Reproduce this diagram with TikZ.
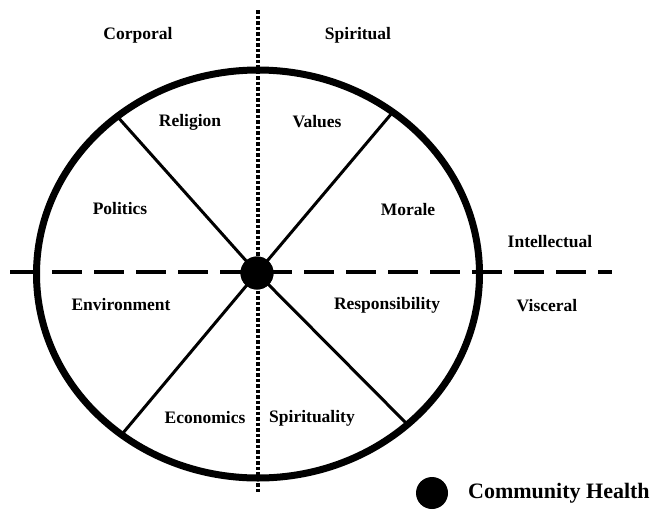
\documentclass[tikz,border=0pt]{standalone}
\usepackage{fontspec}
\setmainfont{Liberation Serif}
\begin{document}
\begin{tikzpicture}[x=1pt,y=-1pt,
  lbl/.style={font=\fontsize{17.5}{20}\selectfont\bfseries, inner sep=0pt},
  biglbl/.style={font=\fontsize{22}{24}\selectfont\bfseries, inner sep=0pt, anchor=west},
  spoke/.style={line width=3pt},
  rim/.style={line width=7pt},
  axisdash/.style={line width=4pt, dash pattern=on 30pt off 12pt},
  axisdot/.style={line width=4pt, dash pattern=on 3.5pt off 2pt},
  dotnode/.style={circle, fill=black, inner sep=0pt, minimum size=33pt}]
\useasboundingbox (0,0) rectangle (652,512);
% spoke ends on the rim
\coordinate (tl) at (116,115);
\coordinate (tr) at (392,113);
\coordinate (bl) at (123,433);
\coordinate (br) at (406,423);
\coordinate (hl) at (10,272);
\coordinate (hr) at (612,272);
\coordinate (vt) at (258,10);
\coordinate (vb) at (258,492);
\node[dotnode] (hub) at (257,273) {};
\draw[spoke] (hub.center) -- (tl);
\draw[spoke] (hub.center) -- (tr);
\draw[spoke] (hub.center) -- (bl);
\draw[spoke] (hub.center) -- (br);
\draw[rim] (258,274) ellipse [x radius=221.5, y radius=204];
\draw[axisdash] (hl) -- (hr);
\draw[axisdot] (vt) -- (vb);
\node[dotnode] (hub2) at (257,273) {};
% labels
\node[lbl] (corporal) at (138,35) {Corporal};
\node[lbl] (spiritual) at (358,35) {Spiritual};
\node[lbl] (religion) at (190,122) {Religion};
\node[lbl] (values) at (317,122) {Values};
\node[lbl] (politics) at (120,209) {Politics};
\node[lbl] (morale) at (408,210) {Morale};
\node[lbl] (intellectual) at (550,242) {Intellectual};
\node[lbl] (environment) at (121,305) {Environment};
\node[lbl] (responsibility) at (387,305) {Responsibility};
\node[lbl] (visceral) at (547,306) {Visceral};
\node[lbl] (economics) at (205,418) {Economics};
\node[lbl] (spirituality) at (312,418) {Spirituality};
% legend
\node[dotnode, minimum size=32pt] (legdot) at (432,493) {};
\node[biglbl] (legtext) at (468,493) {Community Health};
\end{tikzpicture}
\end{document}
